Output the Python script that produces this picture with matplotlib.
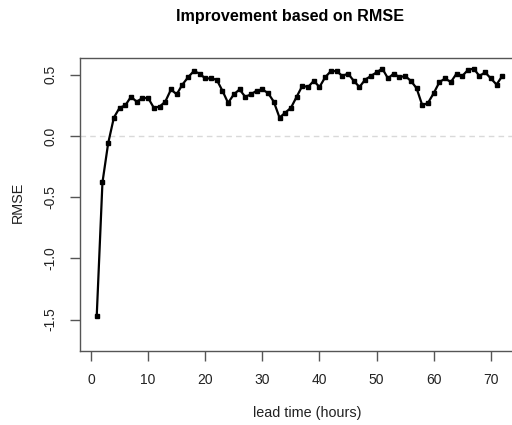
import matplotlib
matplotlib.use("Agg")
import matplotlib.pyplot as plt

plt.rcParams['font.family'] = ['Liberation Sans', 'DejaVu Sans']

# lead time in hours and RMSE improvement for each hour
lead_time = list(range(1, 73))
rmse_gain = [
    -1.47, -0.38, -0.06, 0.15, 0.23, 0.25, 0.32, 0.28, 0.31, 0.31,
    0.23, 0.24, 0.28, 0.38, 0.34, 0.42, 0.48, 0.53, 0.51, 0.47,
    0.47, 0.46, 0.37, 0.27, 0.34, 0.38, 0.32, 0.34, 0.37, 0.38,
    0.35, 0.28, 0.15, 0.19, 0.23, 0.32, 0.41, 0.40, 0.45, 0.40,
    0.48, 0.53, 0.53, 0.49, 0.51, 0.45, 0.40, 0.46, 0.49, 0.52,
    0.55, 0.47, 0.51, 0.48, 0.49, 0.45, 0.39, 0.25, 0.27, 0.35,
    0.44, 0.47, 0.44, 0.51, 0.49, 0.54, 0.55, 0.49, 0.52, 0.47,
    0.42, 0.49,
]

W, H = 512, 425
fig = plt.figure(figsize=(W / 100, H / 100), dpi=100)
left, right, top, bottom = 80, 519, 58, 351
ax = fig.add_axes([left / W, 1 - bottom / H, (right - left) / W, (bottom - top) / H])

ax.axhline(0, color='#d9d9d9', lw=1, ls=(0, (4, 3)), zorder=1)
ax.plot(lead_time, rmse_gain, color='black', lw=1.6, marker='s', ms=3.2, zorder=3)

ax.set_xlim(-1.93, 74.93)
ax.set_ylim(-1.757, 0.637)
ax.set_xticks(range(0, 80, 10))
ax.set_yticks([-1.5, -1.0, -0.5, 0.0, 0.5])
ax.set_yticklabels(['-1.5', '-1.0', '-0.5', '0.0', '0.5'], rotation=90, va='center')

for s in ax.spines.values():
    s.set_color('#555555')
    s.set_linewidth(1)
ax.tick_params(axis='both', colors='#555555', labelcolor='#222222', labelsize=10,
               length=7, width=1, pad=9)

fig.text(290 / W, 1 - 17 / H, 'Improvement based on RMSE', ha='center', va='center',
         fontsize=11.6, fontweight='bold')
fig.text(307 / W, 1 - 413 / H, 'lead time (hours)', ha='center', va='center',
         fontsize=10.4, color='#222222')
fig.text(18 / W, 1 - 202 / H, 'RMSE', ha='center', va='center', rotation=90,
         fontsize=10.4, color='#222222')

fig.savefig('out.png', dpi=100)
